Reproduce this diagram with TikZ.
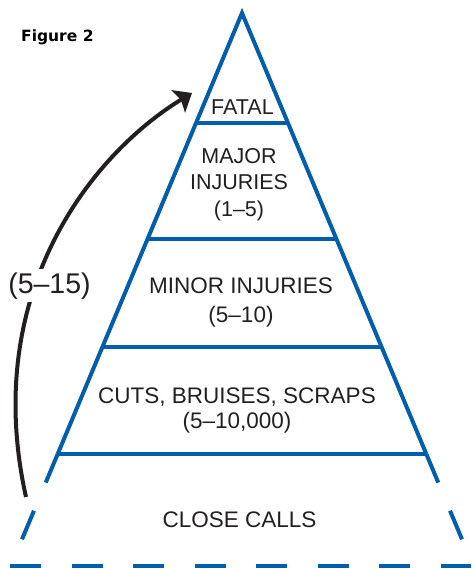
\documentclass[tikz,border=0pt]{standalone}
\usepackage{fontspec}
\setmainfont{Liberation Sans}
\newfontfamily\headfont{DejaVu Sans}
\usetikzlibrary{arrows.meta}
\definecolor{pyrblue}{RGB}{0,94,170}
\definecolor{inkgray}{RGB}{35,31,32}
\begin{document}
\begin{tikzpicture}[x=1pt,y=-1pt,
  tier/.style={line width=4pt,draw=pyrblue},
  tierdash/.style={tier,dash pattern=on 31pt off 30.5pt},
  tiertext/.style={text=inkgray,inner sep=0pt,align=center,anchor=base}]
\useasboundingbox (0,0) rectangle (471,569);
% pyramid
\coordinate (apex) at (242,13);
\draw[tier,line join=miter] (57.7,454) -- (apex) -- (426.3,454);
\draw[tier] (196,123) -- (288,123);
\draw[tier] (147.5,239) -- (336.5,239);
\draw[tier] (102.4,347) -- (381.6,347);
\draw[tier] (57.7,454) -- (426.3,454);
% close calls part, dashed
\draw[tierdash] (57.7,454) -- (21.8,539.8);
\draw[tierdash] (426.3,454) -- (462.2,539.8);
\draw[tierdash] (10,566) -- (471,566);
% texts (base = last line)
\node[tiertext,font=\fontsize{21.5}{26.5}\selectfont] (fatal) at (242.5,115) {FATAL};
\node[tiertext,font=\fontsize{21.5}{26.5}\selectfont] (major) at (239,216) {MAJOR\\INJURIES\\(1–5)};
\node[tiertext,font=\fontsize{22.5}{28.5}\selectfont] (minor) at (241,322) {MINOR INJURIES\\(5–10)};
\node[tiertext,font=\fontsize{22.5}{24.5}\selectfont] (cuts) at (237,428) {CUTS, BRUISES, SCRAPS\\(5–10,000)};
\node[tiertext,font=\fontsize{22.5}{27}\selectfont] (close) at (239.5,527) {CLOSE CALLS};
\node[anchor=base west,inner sep=0pt,font=\headfont\bfseries\fontsize{15.5}{18}\selectfont] (fig) at (21,42) {Figure 2};
% arrow up to fatal
\coordinate (arrowfoot) at (26,497);
\coordinate (arrowtip) at (192,93);
\draw[line width=4pt,inkgray,-{Stealth[length=16pt,width=26pt,inset=3pt]}] (arrowfoot) .. controls (-20,290) and (95,152) .. (arrowtip);
\node[fill=white,inner sep=3pt,text=inkgray,anchor=base,font=\fontsize{28.5}{32}\selectfont] (ratio) at (49.5,293) {(5–15)};
\end{tikzpicture}
\end{document}
